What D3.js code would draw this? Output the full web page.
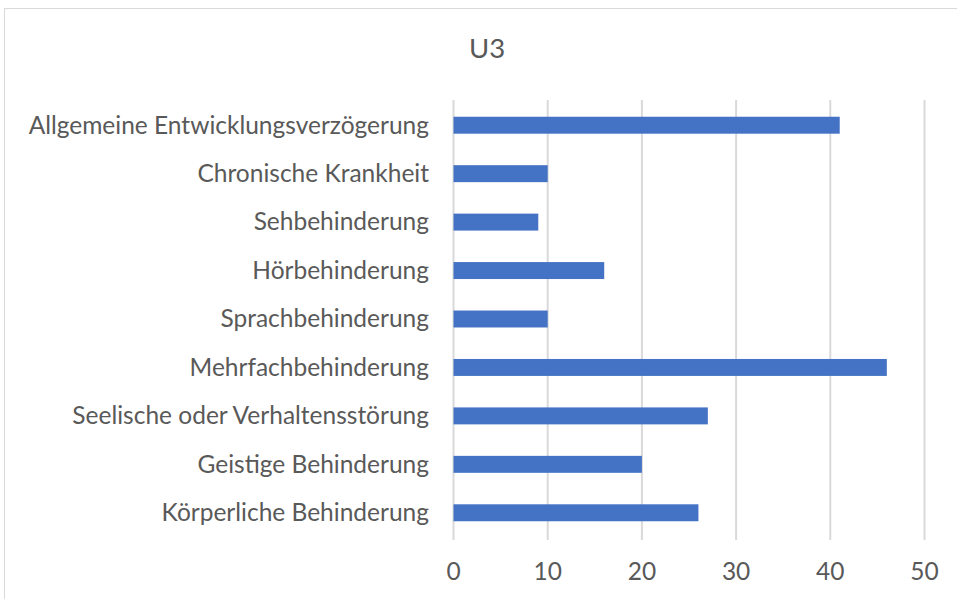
<!DOCTYPE html>
<meta charset="utf-8">
<title>U3</title>
<style>
    body { margin: 0; background: #fff; }
    text { font-family: Lato, "Open Sans", sans-serif; fill: #595959; }
    .grid line { stroke: #d9d9d9; stroke-width: 2px; }
</style>

<svg width="957" height="599"></svg>

<script src="https://d3js.org/d3.v7.min.js"></script>
<script>

    var categories = [
        "Allgemeine Entwicklungsverzögerung",
        "Chronische Krankheit",
        "Sehbehinderung",
        "Hörbehinderung",
        "Sprachbehinderung",
        "Mehrfachbehinderung",
        "Seelische oder Verhaltensstörung",
        "Geistige Behinderung",
        "Körperliche Behinderung"
    ];
    var values = [41, 10, 9, 16, 10, 46, 27, 20, 26];
    var xTicks = [0, 10, 20, 30, 40, 50];
    var title = "U3";

    var svg = d3.select("svg");

    // chart border
    svg.append("rect")
        .attr("x", 4.5).attr("y", 8.5)
        .attr("width", 1000).attr("height", 700)
        .attr("fill", "none")
        .attr("stroke", "#d9d9d9");

    var x = d3.scaleLinear().domain([0, 50]).range([453.5, 924.5]);
    var y = d3.scaleBand().domain(categories).range([101, 537]).paddingInner(0.65).paddingOuter(0.325);

    // gridlines
    svg.append("g")
        .attr("class", "grid")
        .selectAll("line")
        .data(xTicks)
        .enter().append("line")
        .attr("x1", function (d) { return x(d); })
        .attr("x2", function (d) { return x(d); })
        .attr("y1", 100)
        .attr("y2", 540);

    // bars
    svg.append("g")
        .selectAll("rect")
        .data(values)
        .enter().append("rect")
        .attr("x", x(0))
        .attr("y", function (d, i) { return y(categories[i]); })
        .attr("width", function (d) { return x(d) - x(0); })
        .attr("height", y.bandwidth())
        .attr("fill", "#4472c4");

    // category labels
    svg.append("g")
        .selectAll("text")
        .data(categories)
        .enter().append("text")
        .attr("x", 429)
        .attr("y", function (d) { return y(d) + y.bandwidth() / 2; })
        .attr("dy", "0.34em")
        .attr("text-anchor", "end")
        .style("font-size", "24.5px")
        .text(function (d) { return d; });

    // x tick labels
    svg.append("g")
        .selectAll("text")
        .data(xTicks)
        .enter().append("text")
        .attr("x", function (d) { return x(d); })
        .attr("y", 580)
        .attr("text-anchor", "middle")
        .style("font-size", "24.5px")
        .text(function (d) { return d; });

    svg.append("text")
        .attr("x", 487)
        .attr("y", 58)
        .attr("text-anchor", "middle")
        .style("font-size", "27.5px")
        .text(title);

</script>
